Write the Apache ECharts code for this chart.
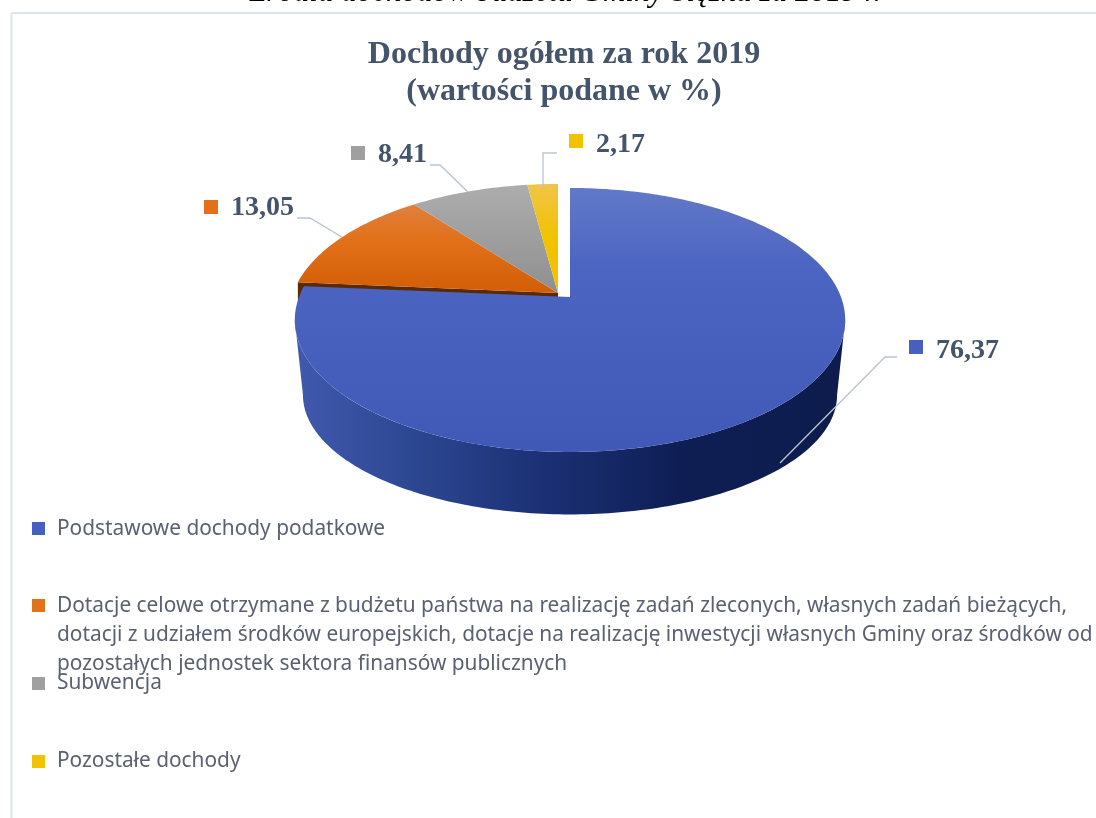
<!DOCTYPE html>
<html lang="pl">

<head>
    <meta charset="UTF-8">
    <title>Dochody ogółem za rok 2019</title>
    <script src="https://cdn.jsdelivr.net/npm/echarts@6/dist/echarts.min.js"></script>
    <style>
        html, body { margin: 0; padding: 0; background: #fff; }
        #container { width: 1096px; height: 818px; }
    </style>
</head>

<body>
    <div id="container"></div>

    <script>
        // dane
        var categories = [
            'Podstawowe dochody podatkowe',
            'Dotacje celowe otrzymane z budżetu państwa na realizację zadań zleconych, własnych zadań bieżących,\ndotacji z udziałem środków europejskich, dotacje na realizację inwestycji własnych Gminy oraz środków od\npozostałych jednostek sektora finansów publicznych',
            'Subwencja',
            'Pozostałe dochody'
        ];
        var values = [76.37, 13.05, 8.41, 2.17];
        var pageCaption = 'Źródła dochodów budżetu Gminy Ślężna za 2019 r.';

        var legendColors = ['#4660c0', '#e2711a', '#a0a0a0', '#f2c200'];
        var faceStops = [
            [[0, '#6279c8'], [0.3, '#4c65c2'], [1, '#4059b6']],
            [[0, '#e0803e'], [0.4, '#e2711a'], [1, '#d25e06']],
            [[0, '#adadad'], [1, '#8f8f8f']],
            [[0, '#f0c548'], [0.5, '#f2c200'], [1, '#f2c200']]
        ];
        var labelTextColor = '#44546a';
        var leaderColor = '#b9c3d1';

        // rzut perspektywiczny tarczy: p = perspektywa
        var p = 0.174;
        var topBlue = { x: 570, y: 297, rx: 271, ry: 128 };
        var bottomBlue = { x: 570, y: 374, rx: 263, ry: 116 };
        var topRest = { x: 558, y: 293, rx: 265, ry: 128 };
        var bottomRest = { x: 558, y: 315, rx: 265, ry: 128 };

        var labelLayout = [
            { x: 909, y: 340, dy: 11, line: [[897, 357], [885, 357], [780, 463]] },
            { x: 204, y: 200, dy: 8, line: [[297, 218], [310, 218], [342, 237]] },
            { x: 351, y: 146, dy: 9, line: [[430, 165], [440, 165], [468, 192]] },
            { x: 569, y: 134, dy: 11, line: [[557, 153], [543, 153], [543, 187]] }
        ];
        var legendLayout = [
            { y: 522, textY: 529 },
            { y: 599, textY: 606 },
            { y: 677, textY: 683 },
            { y: 755, textY: 761 }
        ];

        function project(disc, deg) {
            var a = deg * Math.PI / 180;
            var u = Math.sin(a), v = Math.cos(a);
            var w = 1 + p * v;
            return [disc.x + disc.rx * u / w, disc.y - disc.ry * v / w];
        }

        function arc(disc, from, to) {
            var pts = [];
            var n = Math.max(2, Math.ceil(Math.abs(to - from)));
            for (var i = 0; i <= n; i++) {
                pts.push(project(disc, from + (to - from) * i / n));
            }
            return pts;
        }

        function renderSlice(params, api) {
            var i = params.dataIndex;
            var start = 0;
            for (var k = 0; k < i; k++) start += values[k] * 3.6;
            var end = start + api.value(0) * 3.6;
            var disc = i === 0 ? topBlue : topRest;
            var z = i === 0 ? 3 : 1; // niebieski wycinek przykrywa pozostale
            var children = [];

            if (i === 0) {
                // bok walca: od najszerszego punktu po prawej do najszerszego po lewej
                var sideFill = new echarts.graphic.LinearGradient(297, 0, 848, 0, [
                    { offset: 0, color: '#4159ad' },
                    { offset: 0.2, color: '#2d4893' },
                    { offset: 0.45, color: '#1b3074' },
                    { offset: 0.7, color: '#0e1e54' },
                    { offset: 1, color: '#0d1c4c' }
                ], true);
                var a = arc(disc, 100, 260);
                var b = arc(bottomBlue, 100, 260);
                children.push({
                    type: 'polygon',
                    shape: { points: a.concat(b.slice().reverse()) },
                    style: { fill: sideFill },
                    z2: z
                });
            }
            if (i === 1) {
                // ciemny bok widoczny w szczelinie
                var c1 = project(topRest, start), c2 = project(bottomRest, start);
                children.push({
                    type: 'polygon',
                    shape: { points: [[disc.x, disc.y], c1, c2, [bottomRest.x, bottomRest.y]] },
                    style: { fill: '#5a2a06' },
                    z2: z
                });
            }

            var pts = [[disc.x, disc.y]].concat(arc(disc, start, end));
            var ys = pts.map(function (q) { return q[1]; });
            var y0 = Math.min.apply(null, ys), y1 = Math.max.apply(null, ys);
            children.push({
                type: 'polygon',
                shape: { points: pts },
                style: {
                    fill: new echarts.graphic.LinearGradient(0, y0, 0, y1,
                        faceStops[i].map(function (s) { return { offset: s[0], color: s[1] }; }), true)
                },
                z2: z + 1
            });

            // etykieta z linią odniesienia
            var pos = labelLayout[i];
            children.push({
                type: 'polyline',
                shape: { points: pos.line },
                style: { stroke: leaderColor, lineWidth: 1.3, fill: null },
                z2: 5
            });
            children.push({
                type: 'rect',
                shape: { x: pos.x, y: pos.y, width: 14, height: 14 },
                style: { fill: legendColors[i] },
                z2: 5
            });
            children.push({
                type: 'text',
                style: {
                    text: String(api.value(0)).replace('.', ','),
                    x: pos.x + 27,
                    y: pos.y + pos.dy,
                    verticalAlign: 'middle',
                    fill: labelTextColor,
                    font: 'bold 28px "Liberation Serif"'
                },
                z2: 5
            });

            return { type: 'group', children: children };
        }

        // ramka i legenda
        var graphicItems = [
            { type: 'line', shape: { x1: 11.5, y1: 13, x2: 1096, y2: 13 }, style: { stroke: '#dde3ec', lineWidth: 2 } },
            { type: 'line', shape: { x1: 11.5, y1: 13, x2: 11.5, y2: 818 }, style: { stroke: '#dde3ec', lineWidth: 2 } },
            {
                type: 'text',
                style: {
                    text: pageCaption, x: 565, y: 8, align: 'center', verticalAlign: 'bottom',
                    fill: '#000', font: 'italic 31px "Liberation Serif"'
                }
            }
        ];
        categories.forEach(function (name, i) {
            graphicItems.push({
                type: 'rect',
                shape: { x: 32, y: legendLayout[i].y, width: 13, height: 13 },
                style: { fill: legendColors[i] }
            });
            graphicItems.push({
                type: 'text',
                style: {
                    text: name, x: 57, y: legendLayout[i].textY - 14, lineHeight: 29,
                    fill: '#5a6172', font: '20.85px "Noto Sans"'
                }
            });
        });

        var myChart = echarts.init(document.getElementById('container'), null, { renderer: 'canvas' });
        var option = {
            animation: false,
            backgroundColor: '#fff',
            title: {
                text: 'Dochody ogółem za rok 2019\n(wartości podane w %)',
                left: 559,
                top: 31,
                textAlign: 'center',
                textStyle: {
                    fontFamily: 'Liberation Serif',
                    fontWeight: 'bold',
                    fontSize: 32,
                    lineHeight: 37,
                    color: labelTextColor
                }
            },
            graphic: graphicItems,
            series: [{
                type: 'custom',
                coordinateSystem: 'none',
                silent: true,
                data: values.map(function (v) { return [v]; }),
                renderItem: renderSlice
            }]
        };
        myChart.setOption(option);
    </script>
</body>

</html>
